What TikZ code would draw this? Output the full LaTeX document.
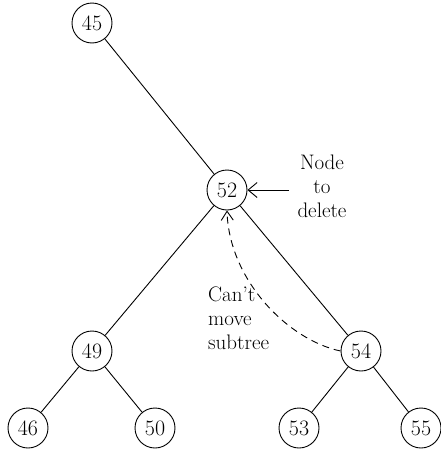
\documentclass[tikz,border=0pt]{standalone}
\usepackage{fontspec}
\setmainfont{Latin Modern Roman}
\usetikzlibrary{arrows.meta}
\begin{document}
\begin{tikzpicture}[x=1pt,y=-1pt,
  tn/.style={circle,draw,line width=0.9pt,minimum size=40pt,inner sep=0pt,font=\fontsize{22}{24}\selectfont},
  edge/.style={line width=0.9pt},
  lbl/.style={font=\fontsize{21}{24}\selectfont,inner sep=0pt},
  head/.style={-{Straight Barb[length=9pt,width=15pt,line width=0.9pt]}},
  dhead/.style={-{Straight Barb[length=9pt,width=12pt,line width=0.9pt]}}]
\useasboundingbox (0,0) rectangle (441,450);
\node[tn] (n45) at (92,23) {45};
\node[tn] (n52) at (227,190) {52};
\node[tn] (n49) at (92,351) {49};
\node[tn] (n54) at (361,351) {54};
\node[tn] (n46) at (28,428) {46};
\node[tn] (n50) at (155,428) {50};
\node[tn] (n53) at (299,428) {53};
\node[tn] (n55) at (421,428) {55};
\draw[edge] (n45) -- (n52);
\draw[edge] (n52) -- (n49);
\draw[edge] (n52) -- (n54);
\draw[edge] (n49) -- (n46);
\draw[edge] (n49) -- (n50);
\draw[edge] (n54) -- (n53);
\draw[edge] (n54) -- (n55);
\node[lbl,align=center,anchor=north] (del) at (322,155) {Node\\to\\delete};
\coordinate (delp) at (289,190);
\draw[edge,head] (delp) -- (n52.east);
\node[lbl,align=left,anchor=north west] (cant) at (208,287) {Can’t\\move\\subtree};
\draw[edge,dhead,dash pattern=on 7pt off 5pt] (n54.west) .. controls (288,340) and (229,280) .. (n52.south);
\end{tikzpicture}
\end{document}
